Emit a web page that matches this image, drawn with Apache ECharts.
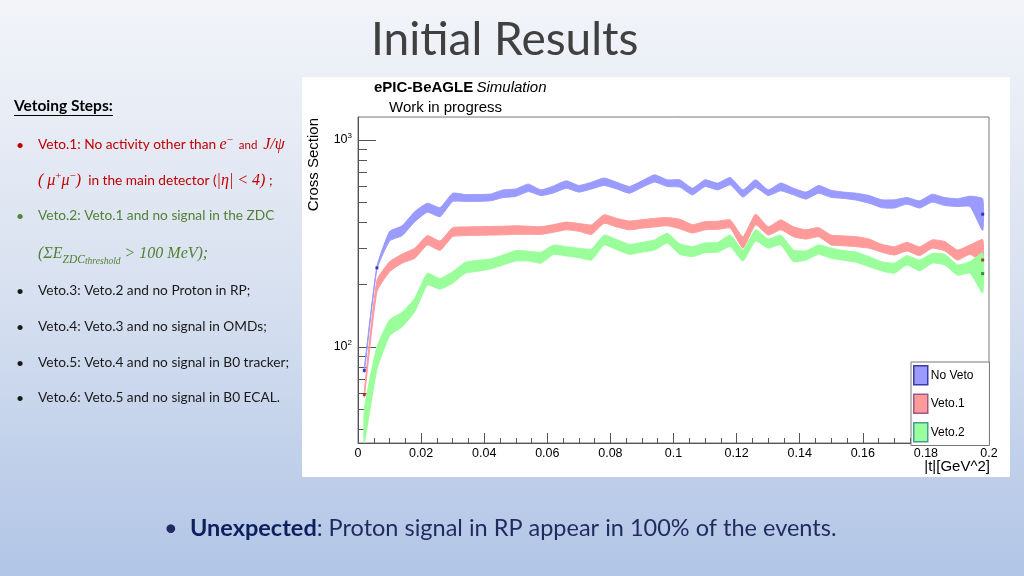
<!DOCTYPE html>
<html>
<head>
<meta charset="utf-8">
<title>Initial Results</title>
<script src="https://cdn.jsdelivr.net/npm/echarts@6/dist/echarts.min.js"></script>
<style>
html, body { margin: 0; padding: 0; }
#chart { width: 1024px; height: 576px; }
</style>
</head>
<body>
<div id="chart"></div>
<script>
// bin centres in |t| [GeV^2]
const tBins = [0.002, 0.006, 0.010, 0.014, 0.018, 0.022, 0.026, 0.030, 0.034, 0.038,
  0.042, 0.046, 0.050, 0.054, 0.058, 0.062, 0.066, 0.070, 0.074, 0.078,
  0.082, 0.086, 0.090, 0.094, 0.098, 0.102, 0.106, 0.110, 0.114, 0.118,
  0.122, 0.126, 0.130, 0.134, 0.138, 0.142, 0.146, 0.150, 0.154, 0.158,
  0.162, 0.166, 0.170, 0.174, 0.178, 0.182, 0.186, 0.190, 0.194, 0.198]

// error band edges (lower / upper) per selection
const noVetoLow = [75, 237, 325, 345, 403, 448, 426, 504, 505, 505,
  508, 527, 534, 563, 539, 555, 585, 560, 580, 603,
  580, 553, 590, 626, 596, 592, 543, 596, 574, 607,
  530, 589, 539, 568, 543, 518, 553, 528, 522, 512,
  495, 471, 469, 490, 469, 501, 482, 477, 477, 365]
const noVetoHigh = [79, 245, 361, 385, 451, 495, 471, 553, 545, 545,
  548, 574, 580, 612, 574, 600, 635, 603, 625, 655,
  625, 596, 635, 679, 642, 642, 585, 642, 619, 659,
  574, 642, 574, 619, 585, 560, 603, 571, 560, 553,
  539, 514, 514, 527, 508, 547, 527, 520, 535, 520]

const veto1Low = [57, 185, 231, 254, 268, 311, 293, 341, 345, 346,
  347, 348, 350, 350, 350, 358, 368, 362, 350, 396,
  380, 368, 375, 380, 385, 372, 355, 368, 370, 375,
  300, 389, 347, 368, 341, 332, 341, 311, 308, 305,
  300, 287, 278, 291, 276, 300, 291, 263, 280, 258]
const veto1High = [61, 210, 258, 281, 300, 345, 325, 377, 380, 381,
  382, 383, 385, 383, 381, 390, 401, 395, 389, 435,
  418, 406, 412, 418, 422, 414, 390, 403, 405, 411,
  341, 438, 381, 411, 381, 368, 377, 347, 344, 341,
  332, 313, 305, 320, 305, 329, 323, 294, 311, 330]

const veto2Low = [32, 78, 113, 125, 148, 199, 190, 203, 227, 232,
  238, 249, 260, 260, 254, 280, 275, 270, 263, 311,
  295, 280, 287, 294, 317, 280, 273, 285, 287, 305,
  260, 325, 300, 311, 258, 263, 280, 268, 262, 256,
  244, 233, 227, 249, 233, 254, 249, 222, 227, 182]
const veto2High = [50, 100, 135, 147, 172, 227, 214, 231, 256, 262,
  266, 278, 292, 290, 287, 311, 305, 300, 297, 347,
  330, 313, 320, 329, 354, 315, 305, 318, 320, 347,
  294, 368, 332, 347, 294, 291, 311, 300, 292, 287,
  273, 258, 254, 276, 263, 283, 280, 249, 258, 285]

// bin-centre markers that stick out of the bands
const noVetoMarks = [[0.002, 77], [0.006, 241], [0.198, 438]]
const veto1Marks = [[0.002, 58.8], [0.198, 263]]
const veto2Marks = [[0.198, 226]]

const xTickStep = 0.02
const yLabelTicks = [100, 1000]
const yMinorTicks = [40, 50, 60, 70, 80, 90, 200, 300, 400, 500, 600, 700, 800, 900]

const rootFont = 'Liberation Sans'
const slideFont = 'Lato'
const mathFont = 'Liberation Serif'
const red = '#c00000'
const green = '#538135'
const ink = '#1a1a1a'

// filled band between low and high, drawn as one polygon through the axes
function bandSeries(name, low, high, fill) {
  return {
    name: name,
    type: 'custom',
    silent: true,
    data: tBins.map((t, i) => [t, low[i], high[i]]),
    encode: { x: 0, y: [1, 2] },
    itemStyle: { color: fill },
    renderItem: function (params, api) {
      if (params.dataIndex !== 0) return null
      const upper = tBins.map((t, i) => api.coord([t, high[i]]))
      const lower = tBins.map((t, i) => api.coord([t, low[i]])).reverse()
      const cs = params.coordSys
      const points = echarts.graphic.clipPointsByRect(upper.concat(lower),
        { x: cs.x, y: cs.y, width: cs.width, height: cs.height })
      return {
        type: 'polygon',
        shape: { points: points, smooth: 0.15 },
        style: { fill: fill, stroke: fill, lineWidth: 1 }
      }
    }
  }
}

function markSeries(data, color) {
  return {
    type: 'scatter',
    data: data,
    symbol: 'rect',
    symbolSize: 3,
    silent: true,
    itemStyle: { color: color },
    z: 3
  }
}

function note(y, text, color) {
  return [
    { type: 'text', x: 16, y: y, style: { text: '•', font: '14px ' + slideFont, fill: color, verticalAlign: 'middle' } },
    { type: 'text', x: 38, y: y, style: { text: text, font: '13.7px ' + slideFont, fill: color, align: 'left', verticalAlign: 'middle' } }
  ]
}

const chart = echarts.init(document.getElementById('chart'))
chart.setOption({
  animation: false,
  graphic: [
    {
      type: 'rect', z: -10, silent: true,
      shape: { x: 0, y: 0, width: 1024, height: 576 },
      style: { fill: new echarts.graphic.LinearGradient(0, 0, 0, 1, [
        { offset: 0, color: '#f2f4f9' },
        { offset: 0.5, color: '#d8e1f0' },
        { offset: 1, color: '#b1c5e6' }
      ]) }
    },
    {
      type: 'rect', z: -9, silent: true,
      shape: { x: 302, y: 77, width: 708, height: 400 },
      style: { fill: '#ffffff' }
    },
    {
      type: 'text', x: 371, y: 40,
      style: { text: 'Initial Results', font: '46px ' + slideFont, fill: '#404040', align: 'left', verticalAlign: 'middle' }
    },
    // plot captions
    {
      type: 'text', x: 374, y: 88,
      style: {
        text: '{b|ePIC-BeAGLE} {i|Simulation}', align: 'left', verticalAlign: 'middle',
        rich: {
          b: { fontFamily: rootFont, fontSize: 15, fontWeight: 'bold', fill: '#000' },
          i: { fontFamily: rootFont, fontSize: 15, fontStyle: 'italic', fill: '#000' }
        }
      }
    },
    {
      type: 'text', x: 389, y: 108,
      style: { text: 'Work in progress', font: '15px ' + rootFont, fill: '#000', align: 'left', verticalAlign: 'middle' }
    },
    {
      type: 'text', x: 314, y: 118, rotation: Math.PI / 2,
      style: { text: 'Cross Section', font: '15px ' + rootFont, fill: '#000', align: 'right', verticalAlign: 'middle' }
    },
    {
      type: 'text', x: 990, y: 467,
      style: { text: '|t|[GeV^2]', font: '15px ' + rootFont, fill: '#000', align: 'right', verticalAlign: 'middle' }
    },
    // left hand notes
    {
      type: 'text', x: 14, y: 106,
      style: { text: 'Vetoing Steps:', font: 'bold 15.5px ' + slideFont, fill: '#000', align: 'left', verticalAlign: 'middle' }
    },
    {
      type: 'line', shape: { x1: 14, y1: 115.5, x2: 113, y2: 115.5 }, style: { stroke: '#000', lineWidth: 1 }
    },
    { type: 'text', x: 16, y: 145, style: { text: '•', font: '14px ' + slideFont, fill: red, verticalAlign: 'middle' } },
    {
      type: 'text', x: 38, y: 145,
      style: {
        text: '{n|Veto.1: No activity other than }{m|e}{sp|−}{s|  and  }{m|J/ψ}', align: 'left', verticalAlign: 'middle',
        rich: {
          n: { fontFamily: slideFont, fontSize: 13.7, fill: red, lineHeight: 20 },
          s: { fontFamily: slideFont, fontSize: 11.5, fill: red, lineHeight: 20 },
          m: { fontFamily: mathFont, fontStyle: 'italic', fontSize: 16, fill: red, lineHeight: 20 },
          sp: { fontFamily: mathFont, fontSize: 11, fill: red, lineHeight: 13, verticalAlign: 'top' }
        }
      }
    },
    {
      type: 'text', x: 38, y: 181,
      style: {
        text: '{m|( μ}{sp|+}{m|μ}{sp|−}{m|)}{n|  in the main detector (}{m||η| < 4)}{n| ;}', align: 'left', verticalAlign: 'middle',
        rich: {
          n: { fontFamily: slideFont, fontSize: 13.7, fill: red, lineHeight: 20 },
          m: { fontFamily: mathFont, fontStyle: 'italic', fontSize: 16, fill: red, lineHeight: 20 },
          sp: { fontFamily: mathFont, fontSize: 11, fill: red, lineHeight: 13, verticalAlign: 'top' }
        }
      }
    },
    ...note(216, 'Veto.2: Veto.1 and no signal in the ZDC', green),
    {
      type: 'text', x: 38, y: 254,
      style: {
        text: '{m|(ΣE}{sb|ZDC}{ssb|threshold}{m| > 100 MeV);}', align: 'left', verticalAlign: 'middle',
        rich: {
          m: { fontFamily: mathFont, fontStyle: 'italic', fontSize: 16, fill: green, lineHeight: 24 },
          sb: { fontFamily: mathFont, fontStyle: 'italic', fontSize: 11.5, fill: green, lineHeight: 16, verticalAlign: 'bottom' },
          ssb: { fontFamily: mathFont, fontStyle: 'italic', fontSize: 9.5, fill: green, lineHeight: 9, verticalAlign: 'bottom' }
        }
      }
    },
    ...note(291, 'Veto.3: Veto.2 and no Proton in RP;', ink),
    ...note(327, 'Veto.4: Veto.3 and no signal in OMDs;', ink),
    ...note(363, 'Veto.5: Veto.4 and no signal in B0 tracker;', ink),
    ...note(398, 'Veto.6: Veto.5 and no signal in B0 ECAL.', ink),
    // bottom remark
    { type: 'text', x: 164, y: 528, style: { text: '•', font: '23.5px ' + slideFont, fill: '#1f2a5e', verticalAlign: 'middle' } },
    {
      type: 'text', x: 190, y: 528,
      style: {
        text: '{b|Unexpected}{n|: Proton signal in RP appear in 100% of the events.}', align: 'left', verticalAlign: 'middle',
        rich: {
          b: { fontFamily: slideFont, fontWeight: 'bold', fontSize: 23.5, fill: '#0d1f5c' },
          n: { fontFamily: slideFont, fontSize: 23.5, fill: '#1f2a5e' }
        }
      }
    }
  ],
  legend: {
    orient: 'vertical',
    left: 911,
    top: 362,
    icon: 'rect',
    itemWidth: 14,
    itemHeight: 19,
    itemGap: 8,
    padding: [3, 16, 3, 2],
    backgroundColor: '#fff',
    borderColor: '#777',
    borderWidth: 1,
    selectedMode: false,
    textStyle: { fontFamily: rootFont, fontSize: 12, color: '#000', padding: [0, 0, 0, -2] },
    data: [
      { name: 'No Veto', itemStyle: { color: '#9a9aff', borderColor: '#3a3aa8', borderWidth: 1.5 } },
      { name: 'Veto.1', itemStyle: { color: '#ff9a9a', borderColor: '#9a5a8a', borderWidth: 1.5 } },
      { name: 'Veto.2', itemStyle: { color: '#9aff9a', borderColor: '#4a9a9a', borderWidth: 1.5 } }
    ]
  },
  grid: {
    left: 358,
    right: 35,
    top: 117,
    bottom: 133,
    show: true,
    borderColor: '#777',
    borderWidth: 1,
    backgroundColor: 'transparent'
  },
  xAxis: {
    type: 'value',
    min: 0,
    max: 0.2,
    interval: xTickStep,
    axisLine: { lineStyle: { color: '#555' } },
    axisTick: { inside: true, length: 10, lineStyle: { color: '#555' } },
    minorTick: { show: true, splitNumber: 4, length: 5, lineStyle: { color: '#555' } },
    splitLine: { show: false },
    axisLabel: { color: '#000', fontFamily: rootFont, fontSize: 12.5, margin: 4 }
  },
  yAxis: [{
    type: 'log',
    logBase: 10,
    min: 34.3,
    max: 1292,
    axisLine: { show: true, lineStyle: { color: '#555' } },
    axisTick: { show: true, inside: true, length: 18, customValues: yLabelTicks, lineStyle: { color: '#555' } },
    splitLine: { show: false },
    axisLabel: {
      customValues: yLabelTicks,
      margin: 6,
      formatter: v => '{b|10}{s|' + Math.round(Math.log10(v)) + '}',
      rich: {
        b: { fontFamily: rootFont, fontSize: 12.5, color: '#000', lineHeight: 16 },
        s: { fontFamily: rootFont, fontSize: 8, color: '#000', lineHeight: 10, verticalAlign: 'top' }
      }
    }
  }, {
    type: 'log',
    logBase: 10,
    min: 34.3,
    max: 1292,
    position: 'left',
    offset: 0,
    axisLine: { show: false },
    axisTick: { show: true, inside: true, length: 9, customValues: yMinorTicks, lineStyle: { color: '#555' } },
    axisLabel: { show: false },
    splitLine: { show: false }
  }],
  series: [
    bandSeries('No Veto', noVetoLow, noVetoHigh, '#9a9aff'),
    bandSeries('Veto.1', veto1Low, veto1High, '#ff9a9a'),
    bandSeries('Veto.2', veto2Low, veto2High, '#9aff9a'),
    markSeries(noVetoMarks, '#1a1a9a'),
    markSeries(veto1Marks, '#9a1a1a'),
    markSeries(veto2Marks, '#1a6a1a')
  ]
})
</script>
</body>
</html>
